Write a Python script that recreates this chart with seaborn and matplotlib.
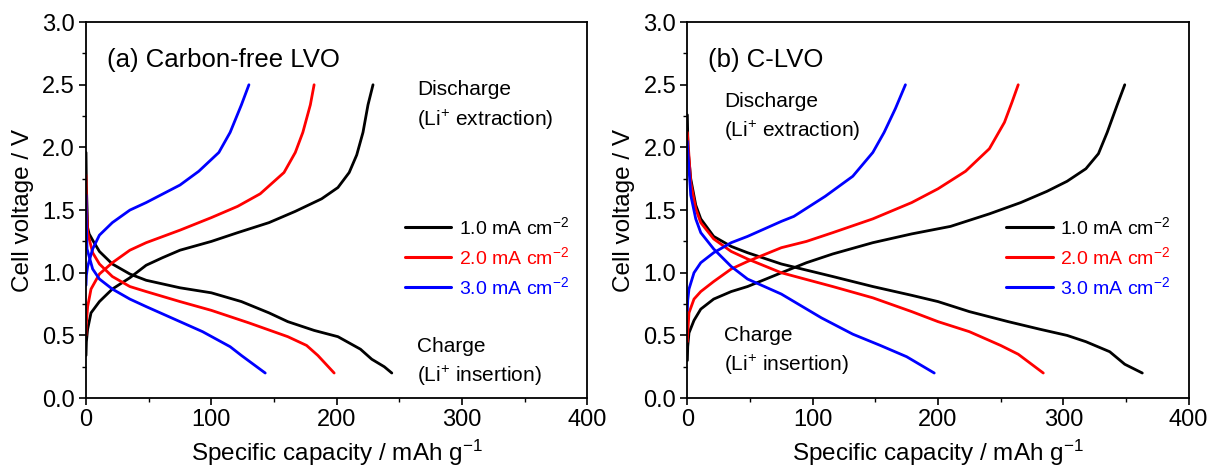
import numpy as np
import pandas as pd
import matplotlib
matplotlib.use("Agg")
import matplotlib.pyplot as plt
import seaborn as sns
from matplotlib.ticker import MultipleLocator, FormatStrFormatter
from matplotlib.lines import Line2D

sns.set_theme(style="ticks")
plt.rcParams['font.family'] = ['Liberation Sans', 'DejaVu Sans']
plt.rcParams['mathtext.fontset'] = 'custom'
plt.rcParams['mathtext.rm'] = 'Liberation Sans'
plt.rcParams['mathtext.it'] = 'Liberation Sans'
plt.rcParams['text.color'] = 'black'
plt.rcParams['axes.labelcolor'] = 'black'
plt.rcParams['xtick.color'] = 'black'
plt.rcParams['ytick.color'] = 'black'

rates = ["1.0 mA cm$^{-2}$", "2.0 mA cm$^{-2}$", "3.0 mA cm$^{-2}$"]
colors = ["#000000", "#ff0000", "#0000ff"]

# ---- Panel (a) Carbon-free LVO ----
a_chg_1_x = [0, 0.3, 1.3, 2.5, 5.3, 10.7, 21, 35, 48, 75, 100, 124, 146, 161, 182, 201, 219, 228, 238, 244]
a_chg_1_y = [1.96, 1.70, 1.36, 1.31, 1.26, 1.17, 1.07, 0.99, 0.94, 0.88, 0.84, 0.77, 0.68, 0.61, 0.54, 0.49, 0.39, 0.31, 0.25, 0.20]
a_dis_1_x = [0, 0.3, 1.3, 4, 10.7, 21, 35, 48, 61, 75, 100, 121, 146, 167, 188, 201, 210, 216, 221, 225, 229]
a_dis_1_y = [0.34, 0.45, 0.55, 0.68, 0.77, 0.87, 0.96, 1.06, 1.12, 1.18, 1.25, 1.32, 1.40, 1.49, 1.59, 1.68, 1.80, 1.94, 2.12, 2.34, 2.50]
a_chg_2_x = [0, 0.3, 1.3, 5.3, 10.7, 21, 35, 48, 75, 100, 130, 161, 176, 185, 198]
a_chg_2_y = [1.78, 1.55, 1.32, 1.16, 1.07, 0.97, 0.89, 0.85, 0.77, 0.70, 0.60, 0.49, 0.42, 0.34, 0.20]
a_dis_2_x = [0, 0.3, 1.3, 4, 10.7, 21, 35, 48, 75, 100, 121, 139, 158, 167, 173, 179, 182]
a_dis_2_y = [0.50, 0.60, 0.73, 0.87, 0.99, 1.08, 1.18, 1.24, 1.34, 1.44, 1.53, 1.63, 1.80, 1.96, 2.12, 2.34, 2.50]
a_chg_3_x = [0, 0.3, 0.8, 5.3, 10.7, 21, 35, 48, 75, 93, 115, 124, 143]
a_chg_3_y = [1.62, 1.40, 1.19, 1.03, 0.95, 0.87, 0.79, 0.73, 0.61, 0.53, 0.41, 0.34, 0.20]
a_dis_3_x = [0, 0.3, 1.3, 5.3, 10.7, 21, 35, 48, 75, 90, 106, 115, 124, 130]
a_dis_3_y = [0.90, 0.98, 1.05, 1.19, 1.30, 1.40, 1.50, 1.56, 1.70, 1.81, 1.96, 2.12, 2.34, 2.50]

# ---- Panel (b) C-LVO ----
b_chg_1_x = [0, 0.5, 2.7, 6.7, 10.7, 21, 35, 48, 75, 116, 148, 179, 200, 225, 256, 281, 303, 318, 337, 349, 363]
b_chg_1_y = [2.26, 1.99, 1.75, 1.54, 1.43, 1.29, 1.21, 1.16, 1.07, 0.97, 0.89, 0.82, 0.77, 0.69, 0.61, 0.55, 0.50, 0.45, 0.37, 0.27, 0.20]
b_dis_1_x = [0, 0.3, 1.3, 5.3, 10.7, 21, 35, 48, 75, 95, 116, 148, 179, 210, 241, 266, 287, 303, 318, 328, 335, 343, 349]
b_dis_1_y = [0.30, 0.41, 0.52, 0.62, 0.71, 0.79, 0.85, 0.89, 1.00, 1.08, 1.15, 1.24, 1.31, 1.37, 1.47, 1.56, 1.65, 1.73, 1.83, 1.95, 2.12, 2.34, 2.50]
b_chg_2_x = [0, 0.5, 2.7, 6.7, 10.7, 21, 35, 48, 75, 116, 148, 179, 200, 225, 250, 264, 284]
b_chg_2_y = [2.12, 2.05, 1.72, 1.51, 1.40, 1.27, 1.17, 1.11, 1.00, 0.89, 0.80, 0.69, 0.61, 0.53, 0.42, 0.35, 0.20]
b_dis_2_x = [0, 0.3, 1.3, 5.3, 10.7, 21, 35, 48, 75, 95, 116, 148, 179, 200, 222, 241, 253, 259, 264]
b_dis_2_y = [0.45, 0.52, 0.68, 0.79, 0.85, 0.93, 1.03, 1.09, 1.20, 1.25, 1.32, 1.43, 1.56, 1.67, 1.81, 1.99, 2.20, 2.36, 2.50]
b_chg_3_x = [0, 0.5, 2.7, 6.7, 10.7, 21, 35, 48, 75, 107, 132, 154, 175, 197]
b_chg_3_y = [2.05, 1.95, 1.62, 1.43, 1.32, 1.19, 1.05, 0.95, 0.83, 0.64, 0.51, 0.42, 0.33, 0.20]
b_dis_3_x = [0, 0.3, 1.3, 5.3, 10.7, 21, 35, 48, 75, 85, 110, 132, 148, 157, 166, 174]
b_dis_3_y = [0.70, 0.78, 0.87, 1.00, 1.08, 1.16, 1.24, 1.29, 1.41, 1.45, 1.61, 1.77, 1.96, 2.12, 2.31, 2.50]

panels = {
    "a": [(a_chg_1_x, a_chg_1_y, a_dis_1_x, a_dis_1_y),
          (a_chg_2_x, a_chg_2_y, a_dis_2_x, a_dis_2_y),
          (a_chg_3_x, a_chg_3_y, a_dis_3_x, a_dis_3_y)],
    "b": [(b_chg_1_x, b_chg_1_y, b_dis_1_x, b_dis_1_y),
          (b_chg_2_x, b_chg_2_y, b_dis_2_x, b_dis_2_y),
          (b_chg_3_x, b_chg_3_y, b_dis_3_x, b_dis_3_y)],
}

titles = {"a": "(a) Carbon-free LVO", "b": "(b) C-LVO"}

def make_df(series):
    rows = []
    for rate, (cx, cy, dx, dy) in zip(rates, series):
        for x, y in zip(cx, cy):
            rows.append((rate, "charge", x, y))
        for x, y in zip(dx, dy):
            rows.append((rate, "discharge", x, y))
    return pd.DataFrame(rows, columns=["rate", "branch", "cap", "volt"])

fig = plt.figure(figsize=(12.08, 4.70), dpi=100)
ax_a = fig.add_axes([0.0712, 0.153, 0.415, 0.800])
ax_b = fig.add_axes([0.569, 0.153, 0.415, 0.800])

for key, ax in (("a", ax_a), ("b", ax_b)):
    df = make_df(panels[key])
    sns.lineplot(data=df, x="cap", y="volt", hue="rate", units="branch",
                 estimator=None, sort=False, palette=colors, hue_order=rates,
                 linewidth=2.0, ax=ax, legend=False)
    ax.set_xlim(0, 400)
    ax.set_ylim(0, 3.0)
    ax.xaxis.set_major_locator(MultipleLocator(100))
    ax.xaxis.set_minor_locator(MultipleLocator(50))
    ax.yaxis.set_major_locator(MultipleLocator(0.5))
    ax.yaxis.set_minor_locator(MultipleLocator(0.25))
    ax.yaxis.set_major_formatter(FormatStrFormatter('%.1f'))
    ax.tick_params(axis='both', which='major', direction='out', length=5, width=1.2,
                   labelsize=17, colors='black', pad=3)
    ax.tick_params(axis='both', which='minor', direction='out', length=3, width=1.0)
    for s in ax.spines.values():
        s.set_linewidth(1.3)
        s.set_color('black')
    ax.set_xlabel("Specific capacity / mAh g$^{-1}$", fontsize=17.5, labelpad=5)
    ax.set_ylabel("Cell voltage / V", fontsize=17.5, labelpad=6)
    ax.text(0.042, 0.90, titles[key], transform=ax.transAxes, fontsize=18.5,
            va='center', ha='left')
    handles = [Line2D([], [], color=c, lw=2.2) for c in colors]
    ax.legend(handles, rates, loc='center left', bbox_to_anchor=(0.62, 0.375),
              frameon=False, fontsize=14, labelcolor=colors, handlelength=2.4,
              handletextpad=0.4, labelspacing=0.43, borderaxespad=0)

ax_a.text(0.66, 0.82, "Discharge", transform=ax_a.transAxes, fontsize=15, va='center')
ax_a.text(0.66, 0.74, "(Li$^{+}$ extraction)", transform=ax_a.transAxes, fontsize=15, va='center')
ax_a.text(0.66, 0.136, "Charge", transform=ax_a.transAxes, fontsize=15, va='center')
ax_a.text(0.66, 0.06, "(Li$^{+}$ insertion)", transform=ax_a.transAxes, fontsize=15, va='center')

ax_b.text(0.074, 0.79, "Discharge", transform=ax_b.transAxes, fontsize=15, va='center')
ax_b.text(0.074, 0.71, "(Li$^{+}$ extraction)", transform=ax_b.transAxes, fontsize=15, va='center')
ax_b.text(0.074, 0.167, "Charge", transform=ax_b.transAxes, fontsize=15, va='center')
ax_b.text(0.074, 0.087, "(Li$^{+}$ insertion)", transform=ax_b.transAxes, fontsize=15, va='center')

fig.savefig("out.png", dpi=100)
